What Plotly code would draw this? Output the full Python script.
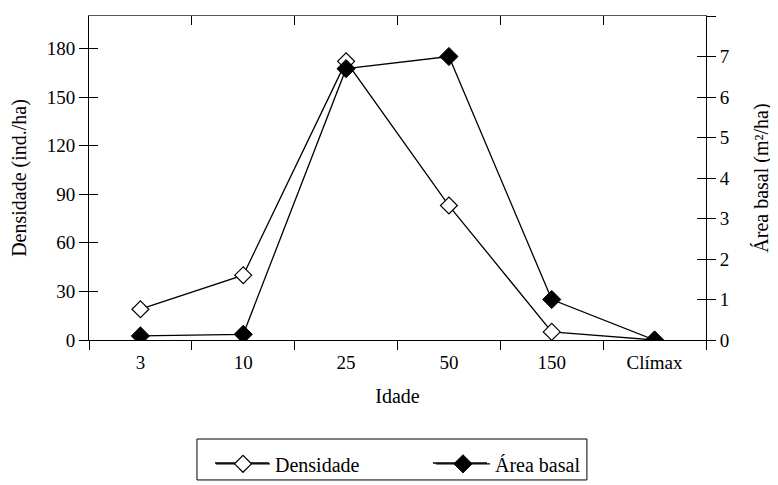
import plotly.graph_objects as go

idade = ["3", "10", "25", "50", "150", "Clímax"]
densidade = [19, 40, 172, 83, 5, 0]
area_basal = [0.10, 0.14, 6.7, 7.0, 1.0, 0.0]

FONT = "Liberation Serif"
TICKF = dict(family=FONT, size=19, color="black")
TF = dict(family=FONT, size=20, color="black")

fig = go.Figure()
fig.add_trace(go.Scatter(
    x=idade, y=densidade, name="Densidade", mode="lines+markers",
    line=dict(color="black", width=1.3),
    marker=dict(symbol="diamond", size=13, color="white", line=dict(color="black", width=1.2)),
    xaxis="x", yaxis="y"))
fig.add_trace(go.Scatter(
    x=idade, y=area_basal, name="Área basal", mode="lines+markers",
    line=dict(color="black", width=1.3),
    marker=dict(symbol="diamond", size=14, color="black", line=dict(color="black", width=1)),
    xaxis="x", yaxis="y2"))

leg_y = -0.3796
fig.update_layout(
    width=770, height=477,
    margin=dict(l=81, r=72, t=8, b=145, autoexpand=False),
    paper_bgcolor="white", plot_bgcolor="white",
    font=TF,
    showlegend=True,
    xaxis=dict(type="category", categoryorder="array", categoryarray=idade,
               range=[-0.5, 5.5], tickson="boundaries", ticks="outside", ticklen=9,
               tickcolor="black", showline=True, linecolor="black", linewidth=1,
               mirror=False, showgrid=False, zeroline=False,
               tickfont=TICKF, ticklabelstandoff=5, automargin=False,
               title=dict(text="Idade", font=TF, standoff=17)),
    xaxis2=dict(overlaying="x", range=[-0.5, 5.5], tickvals=[0.5, 1.5, 2.5, 3.5, 4.5],
                ticks="inside", ticklen=9, tickcolor="black", showticklabels=False,
                showgrid=False, zeroline=False, showline=True, linecolor="#555555",
                side="top", mirror=False, anchor="y", automargin=False),
    yaxis=dict(range=[0, 200], tickvals=[0, 30, 60, 90, 120, 150, 180], ticks="outside",
               ticklen=9, tickcolor="black", showline=True, linecolor="black", linewidth=1,
               showgrid=False, zeroline=False, tickfont=TICKF, automargin=False,
               title=dict(text="Densidade (ind./ha)", font=TF, standoff=20)),
    yaxis3=dict(overlaying="y", range=[0, 200], tickvals=[0, 30, 60, 90, 120, 150, 180],
                ticks="inside", ticklen=9, tickcolor="black", showticklabels=False,
                showgrid=False, zeroline=False, showline=False, side="left", anchor="x"),
    yaxis2=dict(overlaying="y", side="right", range=[0, 8], tickvals=list(range(9)),
                ticks="outside", ticklen=9, tickcolor="black", showline=True,
                linecolor="black", linewidth=1, showgrid=False, zeroline=False,
                tickfont=TICKF, anchor="x", automargin=False,
                title=dict(text="Área basal (m²/ha)", font=TF, standoff=25)),
    yaxis4=dict(overlaying="y", side="right", range=[0, 8], tickvals=list(range(9)),
                ticks="inside", ticklen=9, tickcolor="black", showticklabels=False,
                showgrid=False, zeroline=False, showline=False, anchor="x"),
    legend=dict(orientation="h", x=0.1977, y=-0.322, xanchor="left", yanchor="top",
                borderwidth=0, bgcolor="rgba(0,0,0,0)", font=TF,
                itemwidth=54, entrywidth=151, entrywidthmode="pixels"),
    shapes=[
        dict(type="rect", xref="paper", yref="paper", x0=0.175, x1=0.807,
             y0=-0.432, y1=-0.3056, line=dict(color="black", width=1), layer="below"),
        dict(type="line", xref="paper", yref="paper", x0=0.2042, x1=0.2917,
             y0=leg_y, y1=leg_y, line=dict(color="black", width=1.3), layer="below"),
        dict(type="line", xref="paper", yref="paper", x0=0.5575, x1=0.6451,
             y0=leg_y, y1=leg_y, line=dict(color="black", width=1.3), layer="below"),
    ],
)
# invisible traces that activate the overlay tick axes
fig.add_trace(go.Scatter(x=[None], y=[None], xaxis="x2", yaxis="y3", showlegend=False, hoverinfo="skip"))
fig.add_trace(go.Scatter(x=[None], y=[None], xaxis="x", yaxis="y4", showlegend=False, hoverinfo="skip"))

fig.write_html("out.html")
